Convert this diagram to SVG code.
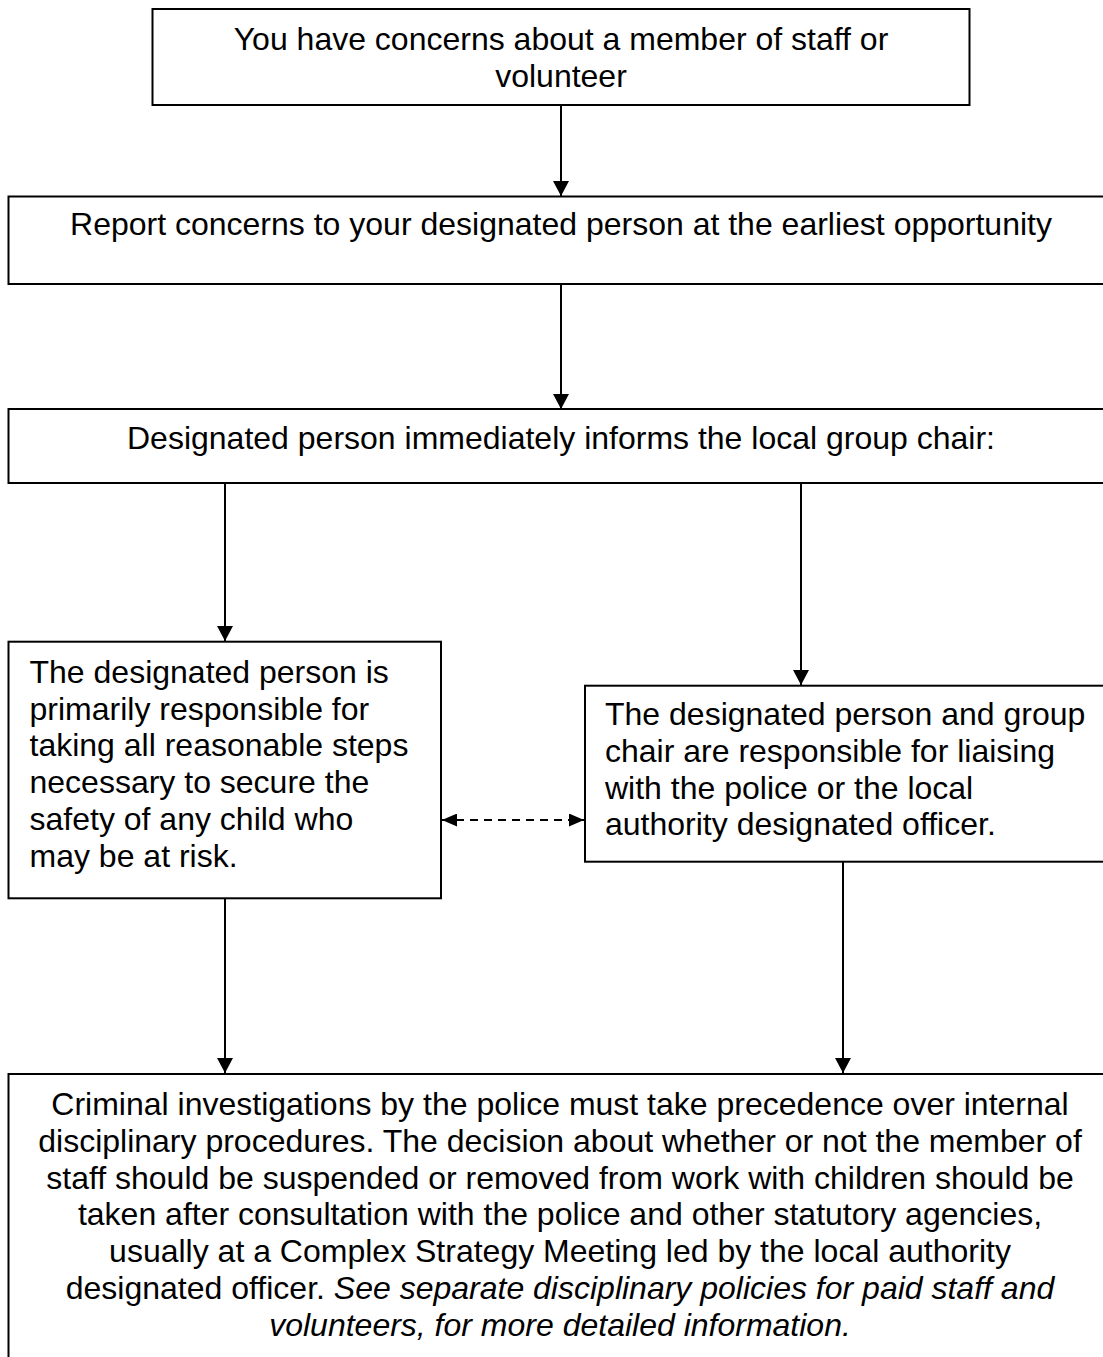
<svg xmlns="http://www.w3.org/2000/svg" width="1103" height="1357" viewBox="0 0 1103 1357">
<style>
  .box { fill: #ffffff; stroke: #000000; stroke-width: 2; }
  .t { font-family: "Liberation Sans", Arial, sans-serif; font-size: 32px; fill: #000000; }
  .c { text-anchor: middle; }
  .conn { stroke: #000000; stroke-width: 2; fill: none; }
  .dash { stroke-dasharray: 8 6; }
</style>
<defs>
  <marker id="arrow" viewBox="0 0 15 16" refX="15" refY="8" markerWidth="15" markerHeight="16" markerUnits="userSpaceOnUse" orient="auto-start-reverse">
    <path d="M0,0 L15,8 L0,16 Z" fill="#000000"/>
  </marker>
  <marker id="arrowSmall" viewBox="0 0 15 13" refX="15" refY="6.5" markerWidth="15" markerHeight="13" markerUnits="userSpaceOnUse" orient="auto-start-reverse">
    <path d="M0,0 L15,6.5 L0,13 Z" fill="#000000"/>
  </marker>
</defs>

<g id="connectors">
  <line class="conn" x1="561" y1="105" x2="561" y2="196" marker-end="url(#arrow)"/>
  <line class="conn" x1="561" y1="284" x2="561" y2="409" marker-end="url(#arrow)"/>
  <line class="conn" x1="225" y1="483" x2="225" y2="641" marker-end="url(#arrow)"/>
  <line class="conn" x1="801" y1="483" x2="801" y2="685" marker-end="url(#arrow)"/>
  <line class="conn" x1="225" y1="898" x2="225" y2="1073" marker-end="url(#arrow)"/>
  <line class="conn" x1="843" y1="862" x2="843" y2="1073" marker-end="url(#arrow)"/>
  <line class="conn dash" x1="442" y1="820" x2="584" y2="820" marker-start="url(#arrowSmall)" marker-end="url(#arrowSmall)"/>
</g>

<g id="node-concerns">
  <rect class="box" x="152.5" y="9" width="817" height="96"/>
  <text class="t c" x="561" y="50">You have concerns about a member of staff or</text>
  <text class="t c" x="561" y="86.8">volunteer</text>
</g>

<g id="node-report">
  <rect class="box" x="8.5" y="196.5" width="1105" height="87.5"/>
  <text class="t c" x="561" y="235">Report concerns to your designated person at the earliest opportunity</text>
</g>

<g id="node-inform">
  <rect class="box" x="8.5" y="409" width="1105" height="74"/>
  <text class="t c" x="561" y="449">Designated person immediately informs the local group chair:</text>
</g>

<g id="node-safety">
  <rect class="box" x="8.5" y="641.7" width="432.5" height="256.6"/>
  <text class="t" x="29.5" y="682.7">The designated person is</text>
  <text class="t" x="29.5" y="719.5">primarily responsible for</text>
  <text class="t" x="29.5" y="756.3">taking all reasonable steps</text>
  <text class="t" x="29.5" y="793.1">necessary to secure the</text>
  <text class="t" x="29.5" y="829.9">safety of any child who</text>
  <text class="t" x="29.5" y="866.7">may be at risk.</text>
</g>

<g id="node-liaise">
  <rect class="box" x="585" y="685.7" width="530" height="176"/>
  <text class="t" x="605" y="725">The designated person and group</text>
  <text class="t" x="605" y="761.8">chair are responsible for liaising</text>
  <text class="t" x="605" y="798.6">with the police or the local</text>
  <text class="t" x="605" y="835.4">authority designated officer.</text>
</g>

<g id="node-criminal">
  <rect class="box" x="8.5" y="1074" width="1104" height="300"/>
  <text class="t c" x="560" y="1115">Criminal investigations by the police must take precedence over internal</text>
  <text class="t c" x="560" y="1151.8">disciplinary procedures. The decision about whether or not the member of</text>
  <text class="t c" x="560" y="1188.6">staff should be suspended or removed from work with children should be</text>
  <text class="t c" x="560" y="1225.4">taken after consultation with the police and other statutory agencies,</text>
  <text class="t c" x="560" y="1262.2">usually at a Complex Strategy Meeting led by the local authority</text>
  <text class="t c" x="560" y="1299">designated officer. <tspan font-style="italic">See separate disciplinary policies for paid staff and</tspan></text>
  <text class="t c" x="560" y="1335.8" font-style="italic">volunteers, for more detailed information.</text>
</g>
</svg>
